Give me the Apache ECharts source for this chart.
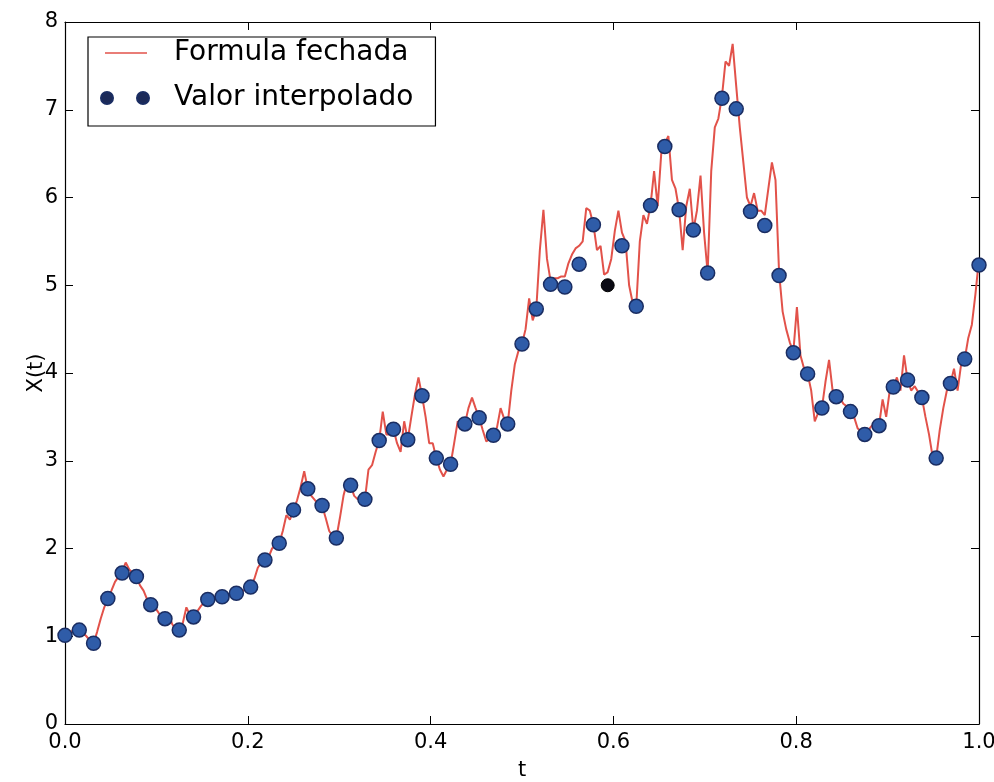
<!DOCTYPE html>
<html><head><meta charset="utf-8">
<script src="https://cdn.jsdelivr.net/npm/echarts@6/dist/echarts.min.js"></script>
<style>html,body{margin:0;padding:0;background:#fff}#c{width:994px;height:782px}</style>
</head><body><div id="c"></div>
<script>
// Closed-form path, sampled on a uniform grid of 257 points over [0, 1]
const lineValues = [
  1.01,1.03,1.06,1.09, 1.08,1.04,1.00,0.95, 0.92,1.05,1.20,1.33, 1.43,1.52,1.62,1.68,
  1.74,1.84,1.76,1.72, 1.68,1.58,1.52,1.42, 1.36,1.34,1.28,1.22, 1.20,1.25,1.14,1.08,
  1.07,1.15,1.33,1.24, 1.22,1.28,1.34,1.39, 1.42,1.43,1.45,1.44, 1.45,1.46,1.48,1.47,
  1.49,1.50,1.52,1.54, 1.56,1.65,1.78,1.84, 1.87,1.90,2.00,2.04, 2.06,2.20,2.38,2.33,
  2.44,2.55,2.70,2.88, 2.68,2.60,2.55,2.50, 2.49,2.35,2.20,2.14, 2.12,2.35,2.60,2.76,
  2.72,2.60,2.56,2.60, 2.56,2.90,2.95,3.10, 3.23,3.56,3.30,3.30, 3.36,3.20,3.10,3.45,
  3.24,3.50,3.75,3.95, 3.74,3.50,3.20,3.20, 3.03,2.90,2.82,2.90, 2.96,3.20,3.45,3.40,
  3.42,3.60,3.72,3.60, 3.49,3.35,3.22,3.25, 3.29,3.38,3.60,3.48, 3.42,3.80,4.10,4.25,
  4.33,4.50,4.85,4.60, 4.73,5.40,5.86,5.30, 5.05,5.08,5.08,5.10, 5.10,5.25,5.35,5.42,
  5.45,5.50,5.88,5.85, 5.69,5.40,5.45,5.12, 5.15,5.30,5.62,5.85, 5.60,5.50,5.00,4.80,
  4.76,5.50,5.80,5.70, 5.91,6.30,5.90,6.50, 6.62,6.70,6.20,6.10, 5.86,5.40,5.90,6.10,
  5.63,5.85,6.25,5.60, 5.14,6.30,6.80,6.90, 7.15,7.55,7.50,7.75, 7.27,6.80,6.40,6.00,
  5.90,6.05,5.85,5.85, 5.80,6.10,6.40,6.20, 5.15,4.70,4.50,4.35, 4.24,4.75,4.20,4.05,
  3.99,3.80,3.45,3.55, 3.60,3.90,4.15,3.80, 3.73,3.72,3.65,3.62, 3.56,3.50,3.37,3.33,
  3.30,3.35,3.40,3.42, 3.40,3.70,3.50,3.80, 3.84,3.95,3.80,4.20, 3.92,3.80,3.85,3.78,
  3.72,3.50,3.30,3.05, 3.03,3.35,3.60,3.80, 3.88,4.05,3.80,4.10, 4.16,4.40,4.55,4.90,
  5.30
];
// Interpolated values on a grid of 65 points over [0, 1] (index 38 is the special point)
const dotValues = [
  1.01,1.07,0.92,1.43,1.72,1.68,1.36,1.20,1.07,1.22,1.42,1.45,1.49,1.56,1.87,2.06,
  2.44,2.68,2.49,2.12,2.72,2.56,3.23,3.36,3.24,3.74,3.03,2.96,3.42,3.49,3.29,3.42,
  4.33,4.73,5.01,4.98,5.24,5.69,null,5.45,4.76,5.91,6.58,5.86,5.63,5.14,7.13,7.01,
  5.84,5.68,5.11,4.23,3.99,3.60,3.73,3.56,3.30,3.40,3.84,3.92,3.72,3.03,3.88,4.16,
  5.23
];
const specialT = [0.59375];
const specialValue = [5.0];
const xTickLabels = ['0.0','0.2','0.4','0.6','0.8','1.0'];
const yTickLabels = ['0','1','2','3','4','5','6','7','8'];

const lineData = lineValues.map((v, i) => [i / (lineValues.length - 1), v]);
const dotData = [];
dotValues.forEach((v, i) => { if (v !== null) dotData.push([i / (dotValues.length - 1), v]); });
const specialData = specialT.map((t, i) => [t, specialValue[i]]);

const FONT = 'DejaVu Sans';
const axisLine = { show: true, onZero: false, lineStyle: { color: '#000', width: 1.2 } };
const tick = { show: true, inside: true, length: 8, lineStyle: { color: '#000', width: 1 } };

const chart = echarts.init(document.getElementById('c'));
chart.setOption({
  animation: false,
  backgroundColor: '#fff',
  grid: { left: 65, right: 15, top: 22, bottom: 58, outerBoundsMode: 'none', containLabel: false },
  xAxis: [
    { type: 'value', min: 0, max: 1, interval: 0.2, position: 'bottom',
      axisLine, axisTick: tick, splitLine: { show: false },
      axisLabel: { color: '#000', fontFamily: FONT, fontSize: 21, margin: 8,
        formatter: v => xTickLabels[Math.round(v / 0.2)] },
      name: 't', nameLocation: 'middle', nameGap: 36, nameMoveOverlap: false,
      nameTextStyle: { color: '#000', fontFamily: FONT, fontSize: 21 } },
    { type: 'value', min: 0, max: 1, interval: 0.2, position: 'top',
      axisLine, axisTick: tick, splitLine: { show: false }, axisLabel: { show: false } }
  ],
  yAxis: [
    { type: 'value', min: 0, max: 8, interval: 1, position: 'left',
      axisLine, axisTick: tick, splitLine: { show: false },
      axisLabel: { color: '#000', fontFamily: FONT, fontSize: 21, margin: 7,
        formatter: v => yTickLabels[Math.round(v)] },
      name: 'X(t)', nameLocation: 'middle', nameGap: 18, nameMoveOverlap: false,
      nameTextStyle: { color: '#000', fontFamily: FONT, fontSize: 21 } },
    { type: 'value', min: 0, max: 8, interval: 1, position: 'right',
      axisLine, axisTick: tick, splitLine: { show: false }, axisLabel: { show: false } }
  ],
  legend: {
    orient: 'vertical', left: 88, top: 37,
    padding: [2, 22, 14, 12], itemGap: 17,
    itemWidth: 48, itemHeight: 12,
    borderColor: '#000', borderWidth: 1.2, backgroundColor: '#fff',
    textStyle: { fontSize: 28, fontFamily: FONT, color: '#000', padding: [0, 0, 0, 20] },
    data: [
      { name: 'Formula fechada',
        icon: 'path://M0,0M48,12M4,5.2H46V6.8H4Z',
        itemStyle: { color: '#e2524a' } },
      { name: 'Valor interpolado',
        icon: 'path://M0,6a6,6 0 1,0 12,0a6,6 0 1,0 -12,0zM36,6a6,6 0 1,0 12,0a6,6 0 1,0 -12,0z',
        itemStyle: { color: '#1c2a58' } }
    ]
  },
  series: [
    { name: 'Formula fechada', type: 'line', data: lineData, symbol: 'none',
      lineStyle: { color: '#e2524a', width: 2 }, itemStyle: { color: '#e2524a' }, z: 2 },
    { name: 'Valor interpolado', type: 'scatter', data: dotData, symbol: 'circle', symbolSize: 14,
      itemStyle: { color: '#2f5ca8', borderColor: '#1a2d62', borderWidth: 1.5, opacity: 1 }, z: 3 },
    { name: 'Ponto', type: 'scatter', data: specialData, symbol: 'circle', symbolSize: 13,
      itemStyle: { color: '#0a0a14', borderColor: '#000', borderWidth: 1, opacity: 1 }, z: 4 }
  ]
});
</script></body></html>
